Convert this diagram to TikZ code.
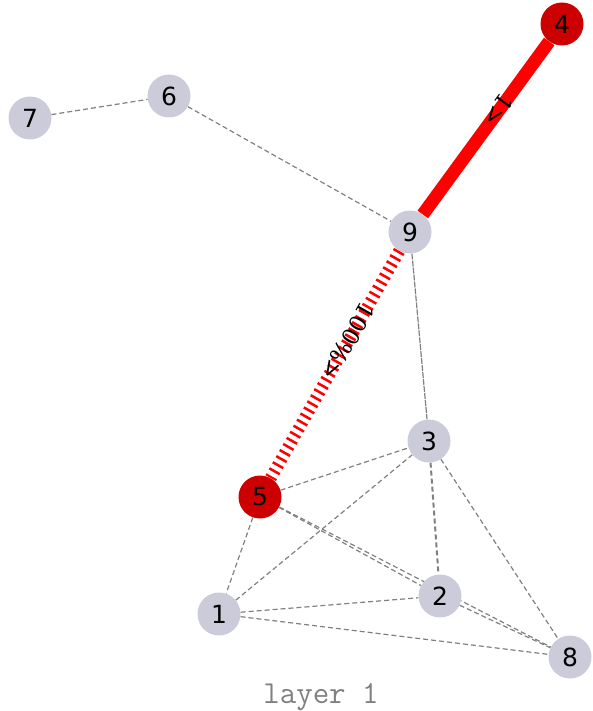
\documentclass[tikz,border=0pt]{standalone}
\usepackage{fontspec}
\usetikzlibrary{backgrounds}
\newfontfamily\vertfont{DejaVu Sans}
\newfontfamily\wfont{DejaVu Serif}
\definecolor{vgray}{RGB}{203,203,217}
\definecolor{vred}{RGB}{204,0,0}
\tikzset{
  vert/.style = {circle, fill = vgray, minimum size = 43pt, inner sep = 0pt,
                 font = \vertfont\fontsize{25}{25}\selectfont},
  hot/.style = {vert, fill = vred},
  link/.style = {gray, line width = 1.2pt, dash pattern = on 5pt off 3pt},
  wlabel/.style = {text = black, inner sep = 0pt, font = \wfont\fontsize{23}{23}\selectfont}
}
\begin{document}
\begin{tikzpicture}[x = 1pt, y = -1pt]
\useasboundingbox (0,0) rectangle (593,711);
% vertices
\node [vert] (n7) at (30,118) {7};
\node [vert] (n6) at (169,96) {6};
\node [vert] (n9) at (410,232) {9};
\node [hot]  (n4) at (562,24) {4};
\node [vert] (n3) at (429,441) {3};
\node [hot]  (n5) at (260,497) {5};
\node [vert] (n2) at (440,596) {2};
\node [vert] (n1) at (219,614) {1};
\node [vert] (n8) at (570,657) {8};
% edges under the vertices
\begin{scope}[on background layer]
\draw [link] (n7) -- (n6);
\draw [link] (n6) -- (n9);
\draw [link, dash pattern = on 6pt off 1pt] (n9) -- (n3);
\draw [link] (n5) -- (n3);
\draw [link] (n1) -- (n3);
\draw [link] (n5) -- (n1);
\draw [link] (n1) -- (n2);
\draw [link] (n1) -- (n8);
\draw [link] (n3) -- (n8);
\draw [link, line width = 2pt] (n3) -- (n2);
\draw [link] (n5) -- (n2);
\draw [link] (n5) -- (n8);
\draw [link] (n2) -- (n8);
\draw [red, line width = 13pt] (n9) -- (n4)
  node [wlabel, pos = 0.6, rotate = 233.8] {1>};
\draw [red, line width = 12pt, dash pattern = on 2.5pt off 4.5pt] (n9) -- (n5)
  node [wlabel, pos = 0.4, rotate = 240.5] {100\%>};
\end{scope}
\node [text = gray, anchor = base, font = \ttfamily\fontsize{32}{32}\selectfont] (cap) at (321,703) {layer 1};
\end{tikzpicture}
\end{document}
